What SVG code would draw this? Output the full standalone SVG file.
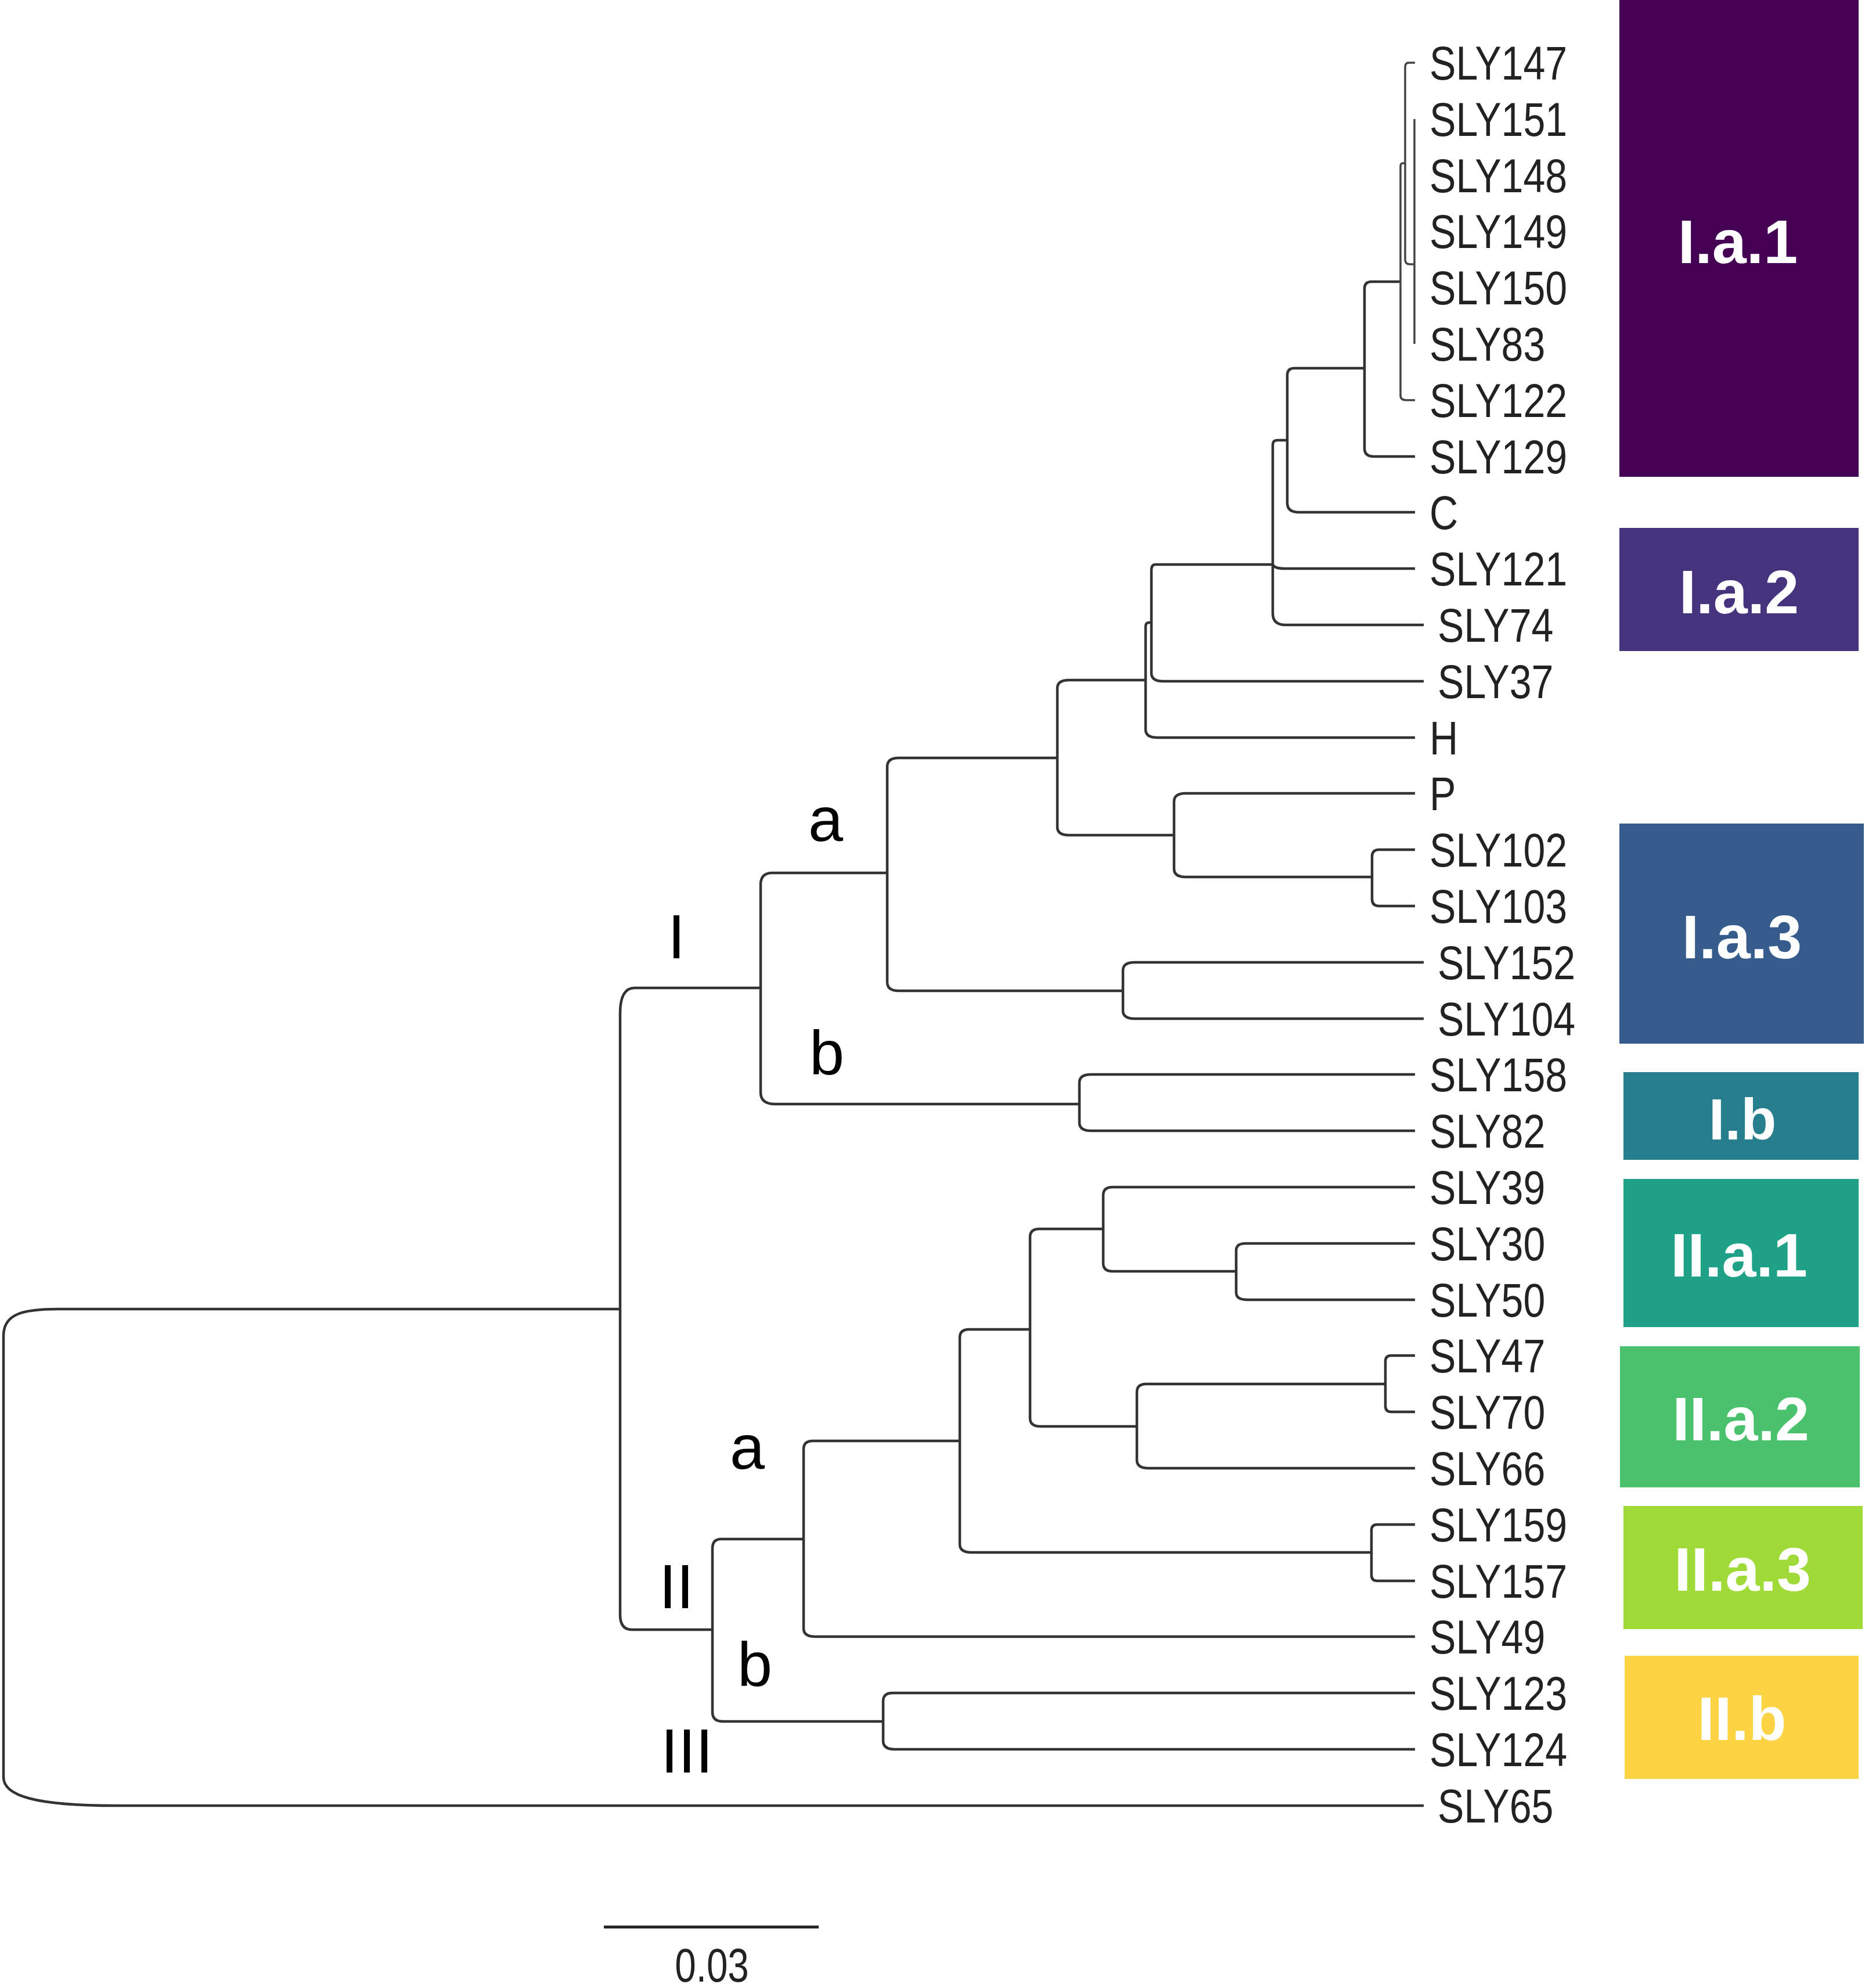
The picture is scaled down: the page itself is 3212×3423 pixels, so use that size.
<svg xmlns="http://www.w3.org/2000/svg" width="3212" height="3423" viewBox="0 0 3212 3423">
<style>
.br{fill:none;stroke:#333;stroke-width:4.5;stroke-linecap:butt;stroke-linejoin:round}
.thin{fill:none;stroke:#444;stroke-width:3.5}
.leaf{font-family:"Liberation Sans",Arial,sans-serif;font-size:82px;fill:#222}
.cl{font-family:"Liberation Sans",Arial,sans-serif;font-size:108px;fill:#000;text-anchor:middle}
.bx{font-family:"Liberation Sans",Arial,sans-serif;font-size:106px;font-weight:bold;fill:#fff;text-anchor:middle}
</style>
<rect width="3212" height="3423" fill="#fff"/>
<g id="boxes">
<g id="box-Ia1"><rect x="2789" y="0" width="412" height="821" fill="#440154"/><text class="bx" x="2993" y="453">I.a.1</text></g>
<g id="box-Ia2"><rect x="2789" y="909" width="412" height="212" fill="#46337E"/><text class="bx" x="2995" y="1056">I.a.2</text></g>
<g id="box-Ia3"><rect x="2789" y="1418" width="421" height="379" fill="#365C8D"/><text class="bx" x="3000" y="1650">I.a.3</text></g>
<g id="box-Ib"><rect x="2796" y="1846" width="405" height="151" fill="#277F8E"/><text class="bx" x="3001" y="1962" style="font-size:100px">I.b</text></g>
<g id="box-IIa1"><rect x="2796" y="2030" width="405" height="255" fill="#1FA187"/><text class="bx" x="2995" y="2198">II.a.1</text></g>
<g id="box-IIa2"><rect x="2790" y="2318" width="413" height="243" fill="#4AC16D"/><text class="bx" x="2998" y="2480">II.a.2</text></g>
<g id="box-IIa3"><rect x="2796" y="2593" width="412" height="212" fill="#A0DA39"/><text class="bx" x="3001" y="2739">II.a.3</text></g>
<g id="box-IIb"><rect x="2798" y="2851" width="403" height="212" fill="#FCD443"/><text class="bx" x="3000" y="2996">II.b</text></g>
</g>
<g id="connectors">
<path id="root" class="br" d="M1068 2254 H100 C40 2254 6 2262 6 2300 V3060 C6 3092 60 3109 200 3109 H2452"/>
<path id="T" class="br" d="M1310 1701 H1093 Q1068 1701 1068 1745 V2780 Q1068 2806 1088 2806 H1227"/>
<path id="I" class="br" d="M1528 1503 H1330 Q1310 1503 1310 1523 V1881 Q1310 1901 1335 1901 H1859"/>
<path id="Ib" class="br" d="M2437 1850 H1879 Q1859 1850 1859 1864 V1933 Q1859 1947 1879 1947 H2437"/>
<path id="Ia" class="br" d="M1821 1305 H1548 Q1528 1305 1528 1320 V1691 Q1528 1706 1548 1706 H1934"/>
<path id="n152" class="br" d="M2452 1657 H1954 Q1934 1657 1934 1671 V1740 Q1934 1754 1954 1754 H2452"/>
<path id="Iatop" class="br" d="M1973 1171 H1841 Q1821 1171 1821 1185 V1424 Q1821 1438 1841 1438 H2022"/>
<path id="Pnode" class="br" d="M2437 1366 H2042 Q2022 1366 2022 1380 V1496 Q2022 1510 2042 1510 H2363"/>
<path id="n102" class="br" d="M2437 1463 H2375 Q2363 1463 2363 1475 V1548 Q2363 1560 2375 1560 H2437"/>
<path id="A" class="br" d="M1983 1072 H1978 Q1973 1072 1973 1080 V1256 Q1973 1270 1993 1270 H2437"/>
<path id="B" class="br" d="M2192 972 H1990 Q1983 972 1983 982 V1159 Q1983 1173 2003 1173 H2452"/>
<path id="G" class="br" d="M2217 758 H2200 Q2192 758 2192 766 V1056 Q2192 1076 2214 1076 H2452"/>
<path id="G121" class="br" d="M2192 972 Q2195 979 2212 979 H2437"/>
<path id="F" class="br" d="M2350 634 H2229 Q2217 634 2217 646 V866 Q2217 882 2237 882 H2437"/>
<path id="E" class="br" d="M2412 485 H2362 Q2350 485 2350 497 V772 Q2350 786 2366 786 H2437"/>
<path id="D0" class="thin" d="M2420 281 H2416 Q2412 281 2412 287 V681 Q2412 689 2422 689 H2437"/>
<path id="D1" class="thin" d="M2437 108 H2426 Q2420 108 2420 116 V447 Q2420 455 2428 455 H2436"/>
<path id="D2" class="thin" d="M2436 205 V592"/>
<path id="II" class="br" d="M1384 2650 H1242 Q1227 2650 1227 2666 V2948 Q1227 2964 1245 2964 H1521"/>
<path id="IIb" class="br" d="M2437 2915 H1537 Q1521 2915 1521 2929 V2998 Q1521 3012 1541 3012 H2437"/>
<path id="IIa" class="br" d="M1653 2481 H1400 Q1384 2481 1384 2495 V2804 Q1384 2818 1404 2818 H2437"/>
<path id="K" class="br" d="M1774 2289 H1669 Q1653 2289 1653 2303 V2659 Q1653 2673 1673 2673 H2362"/>
<path id="n159" class="br" d="M2437 2625 H2372 Q2362 2625 2362 2635 V2712 Q2362 2722 2372 2722 H2437"/>
<path id="H2" class="br" d="M1900 2116 H1790 Q1774 2116 1774 2130 V2442 Q1774 2456 1792 2456 H1958"/>
<path id="H1" class="br" d="M2437 2044 H1916 Q1900 2044 1900 2058 V2175 Q1900 2189 1916 2189 H2129"/>
<path id="n30" class="br" d="M2437 2141 H2145 Q2129 2141 2129 2153 V2226 Q2129 2238 2149 2238 H2437"/>
<path id="IIa2" class="br" d="M2386 2383 H1974 Q1958 2383 1958 2397 V2514 Q1958 2528 1978 2528 H2437"/>
<path id="n47" class="br" d="M2437 2334 H2396 Q2386 2334 2386 2344 V2421 Q2386 2431 2396 2431 H2437"/>
</g>
<g id="leaf-labels" transform="translate(2462 0) scale(0.83 1)">
<text class="leaf" x="0" y="137">SLY147</text>
<text class="leaf" x="0" y="234">SLY151</text>
<text class="leaf" x="0" y="331">SLY148</text>
<text class="leaf" x="0" y="427">SLY149</text>
<text class="leaf" x="0" y="524">SLY150</text>
<text class="leaf" x="0" y="621">SLY83</text>
<text class="leaf" x="0" y="718">SLY122</text>
<text class="leaf" x="0" y="815">SLY129</text>
<text class="leaf" x="0" y="911">C</text>
<text class="leaf" x="0" y="1008">SLY121</text>
<text class="leaf" x="17" y="1105">SLY74</text>
<text class="leaf" x="17" y="1202">SLY37</text>
<text class="leaf" x="0" y="1299">H</text>
<text class="leaf" x="0" y="1395">P</text>
<text class="leaf" x="0" y="1492">SLY102</text>
<text class="leaf" x="0" y="1589">SLY103</text>
<text class="leaf" x="17" y="1686">SLY152</text>
<text class="leaf" x="17" y="1783">SLY104</text>
<text class="leaf" x="0" y="1879">SLY158</text>
<text class="leaf" x="0" y="1976">SLY82</text>
<text class="leaf" x="0" y="2073">SLY39</text>
<text class="leaf" x="0" y="2170">SLY30</text>
<text class="leaf" x="0" y="2267">SLY50</text>
<text class="leaf" x="0" y="2363">SLY47</text>
<text class="leaf" x="0" y="2460">SLY70</text>
<text class="leaf" x="0" y="2557">SLY66</text>
<text class="leaf" x="0" y="2654">SLY159</text>
<text class="leaf" x="0" y="2751">SLY157</text>
<text class="leaf" x="0" y="2847">SLY49</text>
<text class="leaf" x="0" y="2944">SLY123</text>
<text class="leaf" x="0" y="3041">SLY124</text>
<text class="leaf" x="17" y="3138">SLY65</text>
</g>
<g id="clade-labels">
<text class="cl" x="1422" y="1448">a</text>
<text class="cl" x="1165" y="1650">I</text>
<text class="cl" x="1424" y="1850">b</text>
<text class="cl" x="1287" y="2529">a</text>
<text class="cl" x="1165" y="2769">II</text>
<text class="cl" x="1300" y="2903">b</text>
<text class="cl" x="1183" y="3052">III</text>
</g>
<g id="scale-bar">
<line x1="1040" y1="3318" x2="1410" y2="3318" stroke="#222" stroke-width="5"/>
<text class="leaf" transform="translate(1226 3412) scale(0.8 1)" text-anchor="middle" style="font-size:82px">0.03</text>
</g>
</svg>
